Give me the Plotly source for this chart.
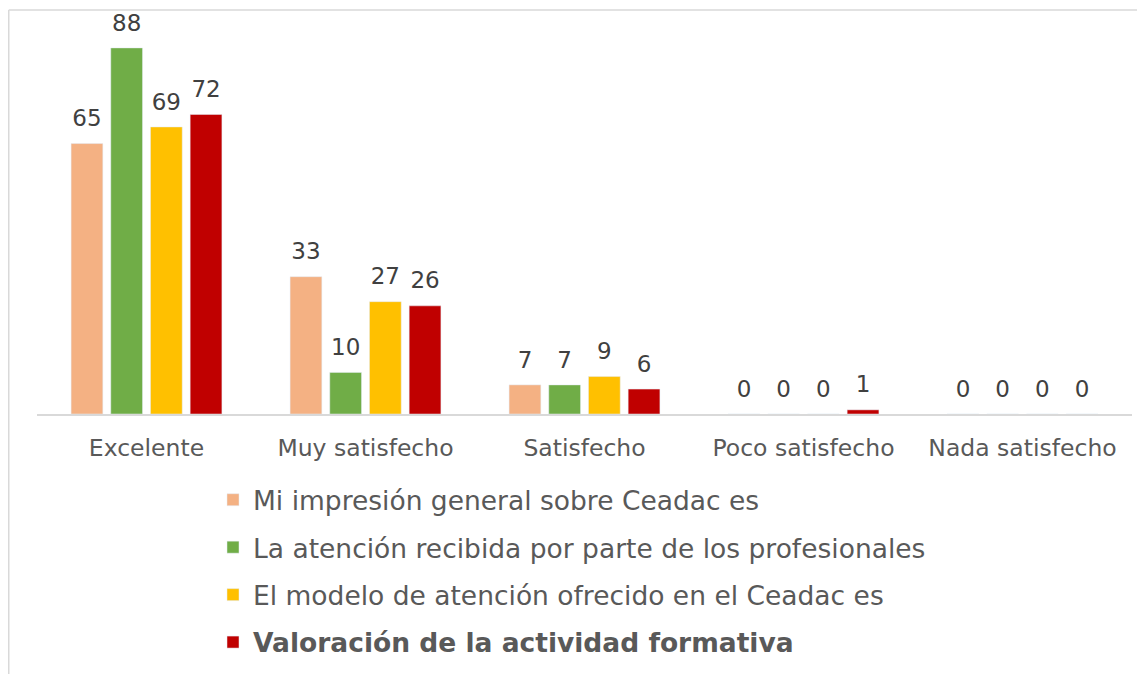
import plotly.graph_objects as go

categories = ["Excelente", "Muy satisfecho", "Satisfecho", "Poco satisfecho", "Nada satisfecho"]
series_names = [
    "Mi impresión general sobre Ceadac es",
    "La atención recibida por parte de los profesionales",
    "El modelo de atención ofrecido en el Ceadac es",
    "<b>Valoración de la actividad formativa</b>",
]
impresion = [65, 33, 7, 0, 0]
atencion = [88, 10, 7, 0, 0]
modelo = [69, 27, 9, 0, 0]
valoracion = [72, 26, 6, 1, 0]
series_values = [impresion, atencion, modelo, valoracion]
colors = ["#F4B183", "#70AD47", "#FFC000", "#C00000"]

FONT = "DejaVu Sans"
# the page adds an 8px body margin, so the figure is drawn 8px smaller
W, H = 1137, 666
ML, MR, MT, MB = 29, 13, 12, 260
PW, PH = W - ML - MR, H - MT - MB

fig = go.Figure()
for i, (name, vals, col) in enumerate(zip(series_names, series_values, colors)):
    fig.add_trace(go.Bar(
        x=categories, y=vals, name=name, marker_color=col,
        offsetgroup=str(i), legendgroup=str(i),
    ))
for i, (vals, col) in enumerate(zip(series_values, colors)):
    fig.add_trace(go.Scatter(
        x=categories, y=vals, mode="markers+text", text=[str(v) for v in vals],
        textposition="top center", textfont=dict(family=FONT, size=23, color="#404040"),
        marker=dict(size=17, color="rgba(0,0,0,0)"), offsetgroup=str(i),
        showlegend=False, hoverinfo="skip", cliponaxis=False,
    ))

fig.update_layout(
    width=W, height=H, margin=dict(l=ML, r=MR, t=MT, b=MB, autoexpand=False),
    paper_bgcolor="white", plot_bgcolor="white",
    barmode="group", bargap=0.275, bargroupgap=0.2,
    scattermode="group", scattergap=0.275,
    font=dict(family=FONT, color="#595959"),
    xaxis=dict(showline=True, linecolor="#d9d9d9", linewidth=1.5, ticks="",
               tickfont=dict(family=FONT, size=23.5, color="#595959"), ticklabelstandoff=12,
               showgrid=False, automargin=False),
    yaxis=dict(range=[0, 94.7], visible=False, showgrid=False, automargin=False),
    legend=dict(xref="container", yref="container", x=205 / W, xanchor="left",
                y=1 - 468 / H, yanchor="top",
                font=dict(family=FONT, size=26.5, color="#595959"),
                tracegroupgap=10, bgcolor="rgba(0,0,0,0)"),
    showlegend=True,
    shapes=[
        dict(type="line", xref="paper", yref="paper", x0=(0.75 - ML) / PW, x1=1.05,
             y0=1 + (MT - 2) / PH, y1=1 + (MT - 2) / PH, line=dict(color="#d9d9d9", width=1.5)),
        dict(type="line", xref="paper", yref="paper", x0=(0.75 - ML) / PW, x1=(0.75 - ML) / PW,
             y0=1 + (MT - 2) / PH, y1=-0.8, line=dict(color="#d9d9d9", width=1.5)),
    ],
)
fig.write_html("out.html")
